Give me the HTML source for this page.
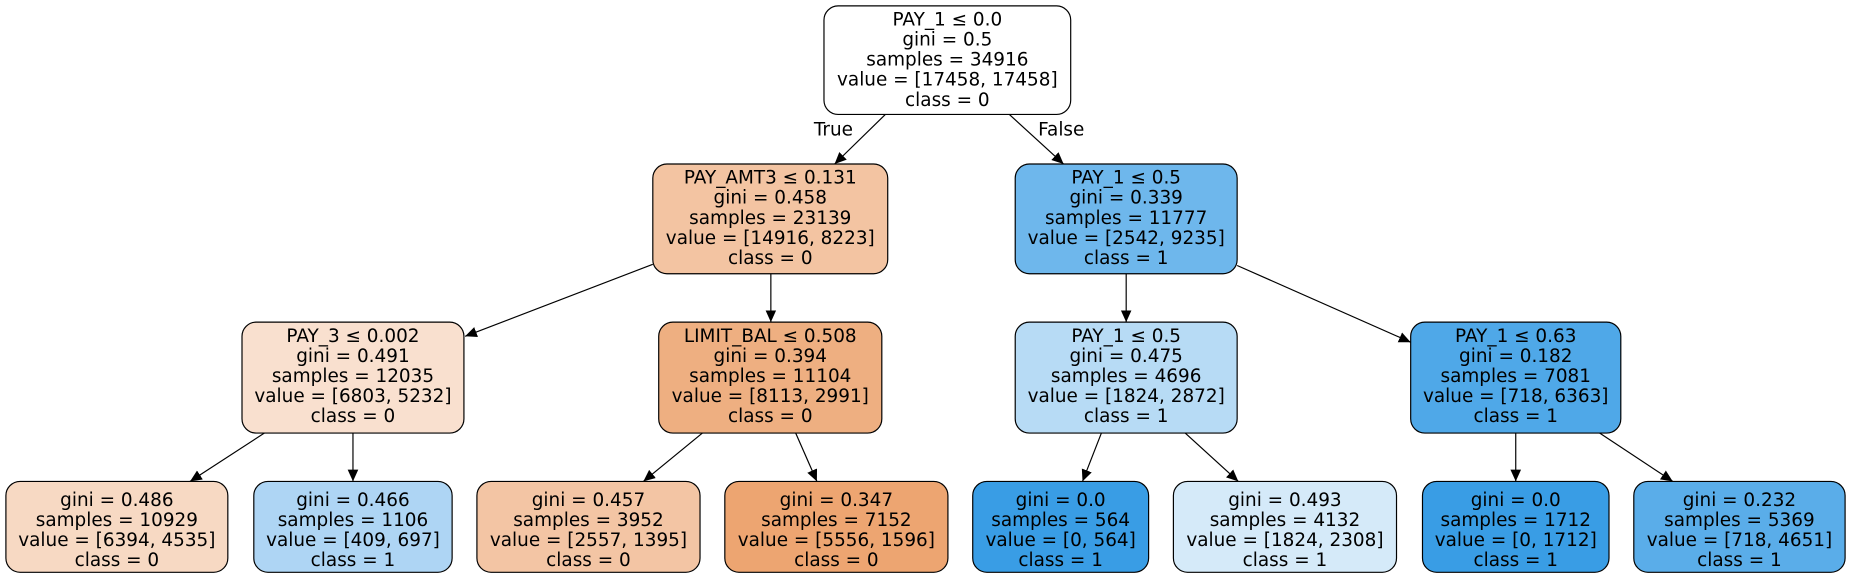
<!DOCTYPE html>
<html><head><meta charset="utf-8"><style>
html,body{margin:0;padding:0;background:#fff;}
svg{display:block}
text{font-family:"DejaVu Sans","Liberation Sans",sans-serif;font-size:15.6px;fill:#000;text-anchor:middle;dominant-baseline:central}
rect{stroke:#000;stroke-width:1}
line{stroke:#000;stroke-width:1}
</style></head><body>
<svg width="1851" height="577" viewBox="0 0 1568 489" preserveAspectRatio="none" xmlns="http://www.w3.org/2000/svg">
<defs><marker id="a" viewBox="0 0 10 10" refX="10" refY="5" markerWidth="10" markerHeight="10" markerUnits="userSpaceOnUse" orient="auto"><path d="M0,0.5 L10,5 L0,9.5 z" fill="#000"/></marker></defs>
<g>
<line x1="750" y1="97" x2="707" y2="139" marker-end="url(#a)"/>
<line x1="855" y1="97" x2="901" y2="139" marker-end="url(#a)"/>
<line x1="553" y1="224" x2="394" y2="285" marker-end="url(#a)"/>
<line x1="653" y1="232" x2="653" y2="273" marker-end="url(#a)"/>
<line x1="954" y1="232" x2="954" y2="273" marker-end="url(#a)"/>
<line x1="1048" y1="225" x2="1195" y2="290" marker-end="url(#a)"/>
<line x1="224" y1="367" x2="161" y2="408" marker-end="url(#a)"/>
<line x1="299" y1="367" x2="299" y2="408" marker-end="url(#a)"/>
<line x1="595" y1="367" x2="545" y2="408" marker-end="url(#a)"/>
<line x1="674" y1="367" x2="692" y2="408" marker-end="url(#a)"/>
<line x1="933" y1="367" x2="917" y2="408" marker-end="url(#a)"/>
<line x1="1004" y1="367" x2="1049" y2="408" marker-end="url(#a)"/>
<line x1="1284" y1="367" x2="1284" y2="408" marker-end="url(#a)"/>
<line x1="1355" y1="367" x2="1417" y2="408" marker-end="url(#a)"/>
</g>
<text x="706" y="110">True</text>
<text x="899" y="110">False</text>
<rect x="698" y="5" width="209" height="92" rx="12" fill="#ffffff"/>
<text x="802.5" y="17">PAY_1 ≤ 0.0</text><text x="802.5" y="34">gini = 0.5</text><text x="802.5" y="51">samples = 34916</text><text x="802.5" y="68">value = [17458, 17458]</text><text x="802.5" y="85">class = 0</text>
<rect x="553" y="139" width="199" height="93" rx="12" fill="#f3c4a2"/>
<text x="652.5" y="151">PAY_AMT3 ≤ 0.131</text><text x="652.5" y="168">gini = 0.458</text><text x="652.5" y="185">samples = 23139</text><text x="652.5" y="202">value = [14916, 8223]</text><text x="652.5" y="219">class = 0</text>
<rect x="860" y="139" width="188" height="93" rx="12" fill="#6eb7ec"/>
<text x="954" y="151">PAY_1 ≤ 0.5</text><text x="954" y="168">gini = 0.339</text><text x="954" y="185">samples = 11777</text><text x="954" y="202">value = [2542, 9235]</text><text x="954" y="219">class = 1</text>
<rect x="205" y="273" width="188" height="94" rx="12" fill="#f9e0cf"/>
<text x="299" y="285">PAY_3 ≤ 0.002</text><text x="299" y="302">gini = 0.491</text><text x="299" y="319">samples = 12035</text><text x="299" y="336">value = [6803, 5232]</text><text x="299" y="353">class = 0</text>
<rect x="558" y="273" width="189" height="94" rx="12" fill="#eeaf81"/>
<text x="652.5" y="285">LIMIT_BAL ≤ 0.508</text><text x="652.5" y="302">gini = 0.394</text><text x="652.5" y="319">samples = 11104</text><text x="652.5" y="336">value = [8113, 2991]</text><text x="652.5" y="353">class = 0</text>
<rect x="860" y="273" width="188" height="94" rx="12" fill="#b7dbf5"/>
<text x="954" y="285">PAY_1 ≤ 0.5</text><text x="954" y="302">gini = 0.475</text><text x="954" y="319">samples = 4696</text><text x="954" y="336">value = [1824, 2872]</text><text x="954" y="353">class = 1</text>
<rect x="1195" y="273" width="178" height="94" rx="12" fill="#4fa8e8"/>
<text x="1284" y="285">PAY_1 ≤ 0.63</text><text x="1284" y="302">gini = 0.182</text><text x="1284" y="319">samples = 7081</text><text x="1284" y="336">value = [718, 6363]</text><text x="1284" y="353">class = 1</text>
<rect x="5" y="408" width="188" height="77" rx="12" fill="#f7d9c3"/>
<text x="99" y="424">gini = 0.486</text><text x="99" y="441">samples = 10929</text><text x="99" y="458">value = [6394, 4535]</text><text x="99" y="475">class = 0</text>
<rect x="215" y="408" width="168" height="77" rx="12" fill="#aed5f4"/>
<text x="299" y="424">gini = 0.466</text><text x="299" y="441">samples = 1106</text><text x="299" y="458">value = [409, 697]</text><text x="299" y="475">class = 1</text>
<rect x="404" y="408" width="189" height="77" rx="12" fill="#f3c5a4"/>
<text x="498.5" y="424">gini = 0.457</text><text x="498.5" y="441">samples = 3952</text><text x="498.5" y="458">value = [2557, 1395]</text><text x="498.5" y="475">class = 0</text>
<rect x="614" y="408" width="189" height="77" rx="12" fill="#eda571"/>
<text x="708.5" y="424">gini = 0.347</text><text x="708.5" y="441">samples = 7152</text><text x="708.5" y="458">value = [5556, 1596]</text><text x="708.5" y="475">class = 0</text>
<rect x="824" y="408" width="149" height="77" rx="12" fill="#399de5"/>
<text x="898.5" y="424">gini = 0.0</text><text x="898.5" y="441">samples = 564</text><text x="898.5" y="458">value = [0, 564]</text><text x="898.5" y="475">class = 1</text>
<rect x="994" y="408" width="189" height="77" rx="12" fill="#d5eaf9"/>
<text x="1088.5" y="424">gini = 0.493</text><text x="1088.5" y="441">samples = 4132</text><text x="1088.5" y="458">value = [1824, 2308]</text><text x="1088.5" y="475">class = 1</text>
<rect x="1205" y="408" width="158" height="77" rx="12" fill="#399de5"/>
<text x="1284" y="424">gini = 0.0</text><text x="1284" y="441">samples = 1712</text><text x="1284" y="458">value = [0, 1712]</text><text x="1284" y="475">class = 1</text>
<rect x="1384" y="408" width="179" height="77" rx="12" fill="#5aade9"/>
<text x="1473.5" y="424">gini = 0.232</text><text x="1473.5" y="441">samples = 5369</text><text x="1473.5" y="458">value = [718, 4651]</text><text x="1473.5" y="475">class = 1</text>
</svg>
</body></html>
